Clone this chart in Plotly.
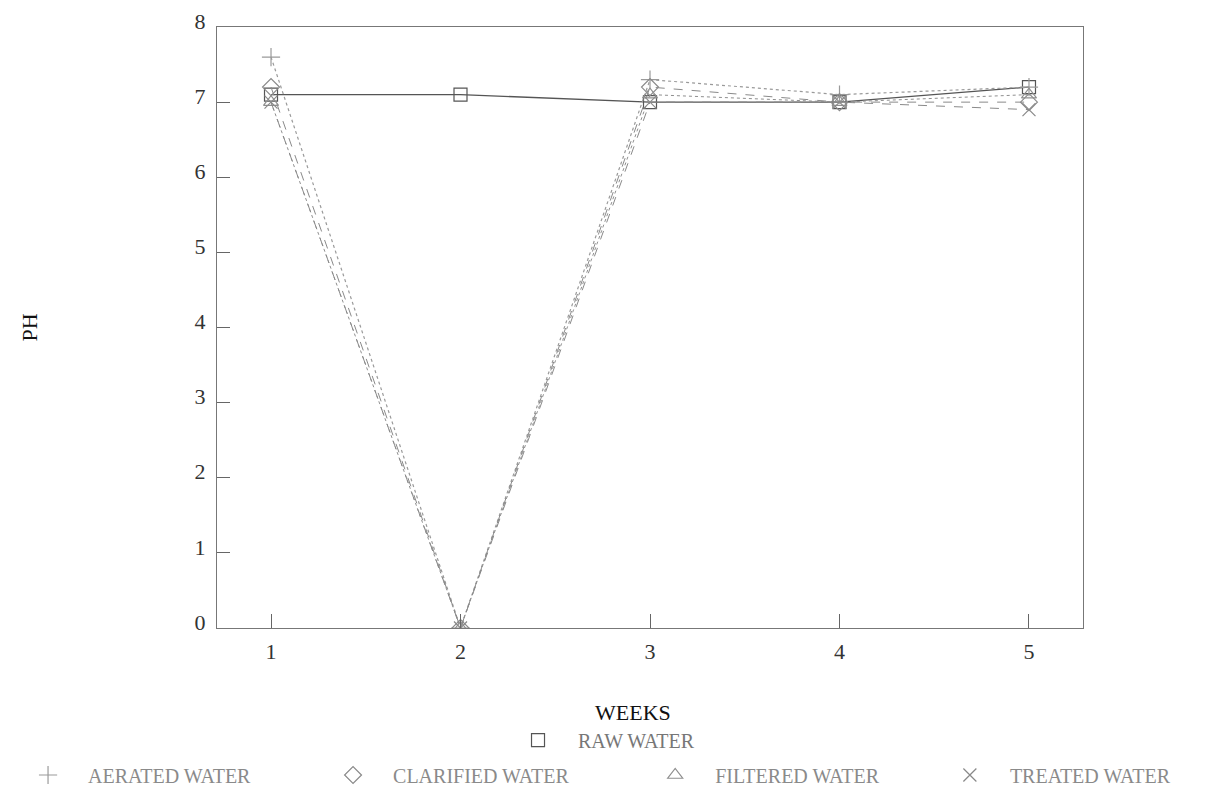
import plotly.graph_objects as go

weeks = [1, 2, 3, 4, 5]
raw_water = [7.1, 7.1, 7.0, 7.0, 7.2]
aerated_water = [7.6, 0.0, 7.3, 7.1, 7.2]
clarified_water = [7.2, 0.0, 7.2, 7.0, 7.0]
filtered_water = [7.0, 0.0, 7.1, 7.0, 7.1]
treated_water = [7.0, 0.0, 7.0, 7.0, 6.9]
x_ticks = [1, 2, 3, 4, 5]
y_ticks = [0, 1, 2, 3, 4, 5, 6, 7, 8]

FONT = "Liberation Serif, Times New Roman, serif"

series = [
    ("RAW WATER", raw_water, "square-open", "#555555", "solid", 1.3, "legend", 0.3245, -0.1864),
    ("AERATED WATER", aerated_water, "cross-thin-open", "#9a9a9a", "dot", 1.2, "legend2", -0.2413, -0.2446),
    ("CLARIFIED WATER", clarified_water, "diamond-open", "#8a8a8a", "dash", 1.0, "legend3", 0.1109, -0.2446),
    ("FILTERED WATER", filtered_water, "triangle-up-open", "#8f8f8f", "dot", 1.0, "legend4", 0.4829, -0.2446),
    ("TREATED WATER", treated_water, "x-thin-open", "#8a8a8a", "dash", 1.0, "legend5", 0.8232, -0.2446),
]

fig = go.Figure()
legends = {}
for name, vals, sym, col, dash, w, leg, lx, ly in series:
    fig.add_trace(go.Scatter(
        x=weeks, y=vals, mode="lines", showlegend=False,
        line=dict(color=col, dash=dash, width=w), hoverinfo="skip"))
    fig.add_trace(go.Scatter(
        x=weeks, y=vals, mode="markers", name=name, legend=leg,
        marker=dict(symbol=sym, size=13, color=col, line=dict(color=col, width=1.2))))
    legends[leg] = dict(orientation="h", x=lx, xanchor="left", y=ly, yanchor="middle",
                        itemwidth=70, bgcolor="rgba(0,0,0,0)",
                        font=dict(size=20, color="#777777" if leg == "legend" else "#8a8a8a", family=FONT))

fig.update_layout(
    width=1227, height=798,
    paper_bgcolor="white", plot_bgcolor="white",
    margin=dict(l=209, r=152, t=19, b=178, autoexpand=False),
    font=dict(family=FONT, color="#333333", size=20),
    xaxis=dict(range=[0.715, 5.285], tickvals=x_ticks, ticks="inside", ticklen=14,
               tickcolor="#666666", showline=True, linecolor="#777777", mirror=True,
               showgrid=False, zeroline=False, ticklabelstandoff=4,
               tickfont=dict(size=22, color="#333333")),
    yaxis=dict(range=[0, 8], tickvals=y_ticks, ticks="inside", ticklen=13,
               tickcolor="#666666", showline=True, linecolor="#777777", mirror=True,
               showgrid=False, zeroline=False, ticklabelstandoff=6, ticklabelshift=-6,
               tickfont=dict(size=22, color="#333333")),
    annotations=[
        dict(text="WEEKS", xref="paper", yref="paper", x=0.48, y=-0.14,
             xanchor="center", yanchor="middle",
             showarrow=False, font=dict(size=22, color="#111111", family=FONT)),
        dict(text="PH", xref="paper", yref="paper", x=-0.216, y=0.5, textangle=-90,
             xanchor="center", yanchor="middle",
             showarrow=False, font=dict(size=22, color="#111111", family=FONT)),
    ],
    **legends,
)

fig.write_html("out.html")
